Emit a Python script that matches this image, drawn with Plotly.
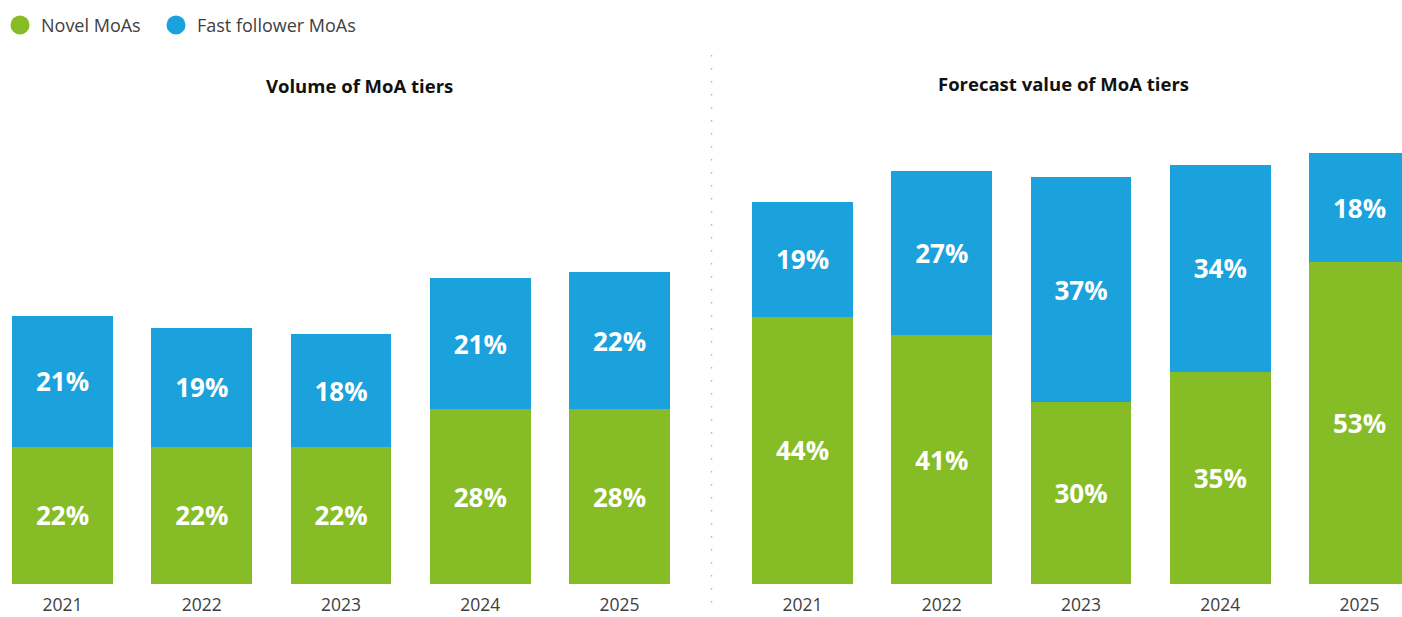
import plotly.graph_objects as go

# Data
years = ["2021", "2022", "2023", "2024", "2025"]
volume_novel = [22, 22, 22, 28, 28]
volume_fast = [21, 19, 18, 21, 22]
value_novel = [44, 41, 30, 35, 53]
value_fast = [19, 27, 37, 34, 18]

series_names = ["Novel MoAs", "Fast follower MoAs"]
GREEN = "#86BC25"
BLUE = "#1BA1DC"
W, H = 1402, 617
FONT = "Open Sans"

x_idx = list(range(len(years)))


def pct(vals):
    return [f"{v}%" for v in vals]


fig = go.Figure()

label_font = dict(family=FONT, size=26, color="white", weight="bold")

for xa, ya, novel, fast in [("x", "y", volume_novel, volume_fast),
                            ("x2", "y2", value_novel, value_fast)]:
    fig.add_trace(go.Bar(x=x_idx, y=novel, name=series_names[0], marker_color=GREEN,
                         text=pct(novel), textposition="inside", insidetextanchor="middle",
                         textfont=label_font, width=0.725, xaxis=xa, yaxis=ya,
                         showlegend=False, marker_line_width=0))
    fig.add_trace(go.Bar(x=x_idx, y=fast, name=series_names[1], marker_color=BLUE,
                         text=pct(fast), textposition="inside", insidetextanchor="middle",
                         textfont=label_font, width=0.725, xaxis=xa, yaxis=ya,
                         showlegend=False, marker_line_width=0))

px_per_unit = 139.25
y_bottom = 1 - 584 / H
y_top = 1 - 100 / H
plot_h = 484

tick_font = dict(family=FONT, size=17.5, color="#404040")
xcommon = dict(tickvals=x_idx, ticktext=years, showgrid=False, zeroline=False,
               showline=False, ticks="outside", ticklen=5, tickcolor="rgba(0,0,0,0)",
               tickfont=tick_font, fixedrange=True, automargin=False)
ycommon = dict(visible=False, showgrid=False, zeroline=False, fixedrange=True, automargin=False)

left_min = -62.5 / px_per_unit
right_min = -(802.5 - 701) / px_per_unit
fig.update_layout(
    xaxis=dict(domain=[0, 0.5], range=[left_min, left_min + 701 / px_per_unit], **xcommon),
    xaxis2=dict(domain=[0.5, 1], range=[right_min, right_min + 701 / px_per_unit], anchor="y2", **xcommon),
    yaxis=dict(domain=[y_bottom, y_top], range=[0, plot_h / 6.24], **ycommon),
    yaxis2=dict(domain=[y_bottom, y_top], range=[0, plot_h / 6.07], anchor="x2", **ycommon),
    barmode="stack",
    width=W, height=H,
    margin=dict(l=0, r=0, t=0, b=0, autoexpand=False),
    plot_bgcolor="white", paper_bgcolor="white",
    font=dict(family=FONT),
    showlegend=False,
)

# Panel titles
title_font = dict(family=FONT, size=18.5, color="#111111")
fig.add_annotation(text="<b>Volume of MoA tiers</b>", x=359.5 / W, y=1 - 85 / H,
                   xref="paper", yref="paper", showarrow=False, font=title_font,
                   xanchor="center", yanchor="middle")
fig.add_annotation(text="<b>Forecast value of MoA tiers</b>", x=1063.5 / W, y=1 - 84 / H,
                   xref="paper", yref="paper", showarrow=False, font=title_font,
                   xanchor="center", yanchor="middle")

# Legend: circle markers with labels
legend_items = [(20, 39, series_names[0], GREEN), (176, 195, series_names[1], BLUE)]
for cx, tx, name, col in legend_items:
    r = 9.5
    fig.add_shape(type="circle", xref="paper", yref="paper",
                  x0=(cx - r) / W, x1=(cx + r) / W, y0=1 - (25 + r) / H, y1=1 - (25 - r) / H,
                  fillcolor=col, line_width=0)
    fig.add_annotation(text=name, x=tx / W, y=1 - 25 / H, xref="paper", yref="paper",
                       showarrow=False, xanchor="left", yanchor="middle",
                       font=dict(family=FONT, size=18, color="#404040"))

# Dotted divider between the panels
fig.add_shape(type="line", xref="paper", yref="paper",
              x0=711.5 / W, x1=711.5 / W, y0=1 - 55 / H, y1=1 - 612 / H,
              line=dict(color="#b5b5b5", width=1.5, dash="1.5px,11.5px"))

fig.write_html("out.html")
